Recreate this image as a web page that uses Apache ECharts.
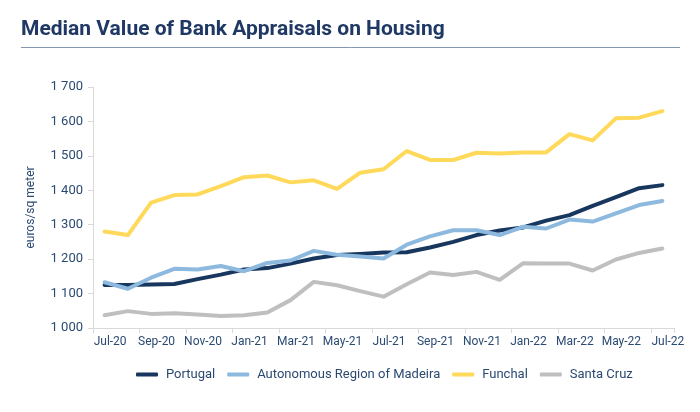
<!DOCTYPE html>
<html>
<head>
<meta charset="utf-8">
<script src="https://cdn.jsdelivr.net/npm/echarts@6/dist/echarts.min.js"></script>
<style>
html,body{margin:0;padding:0;background:#fff;}
#chart{width:700px;height:412px;}
</style>
</head>
<body>
<div id="chart"></div>
<script>
const months = ['Jul-20','Aug-20','Sep-20','Oct-20','Nov-20','Dec-20','Jan-21','Feb-21','Mar-21','Apr-21','May-21','Jun-21','Jul-21','Aug-21','Sep-21','Oct-21','Nov-21','Dec-21','Jan-22','Feb-22','Mar-22','Apr-22','May-22','Jun-22','Jul-22'];
const portugal = [1125,1125,1126,1128,1142,1155,1170,1174,1187,1202,1212,1215,1219,1220,1234,1250,1270,1283,1292,1312,1328,1355,1380,1406,1415];
const madeira = [1133,1114,1146,1172,1170,1180,1165,1189,1196,1224,1213,1208,1202,1242,1266,1284,1284,1270,1294,1289,1315,1309,1333,1357,1369];
const funchal = [1280,1270,1364,1386,1388,1412,1438,1443,1423,1429,1404,1451,1461,1514,1488,1488,1509,1507,1510,1510,1563,1545,1609,1611,1630];
const santaCruz = [1037,1049,1041,1043,1039,1035,1037,1045,1081,1134,1124,1107,1091,1127,1161,1154,1163,1140,1188,1187,1187,1167,1199,1218,1231];

const navy = '#1F3864';
const textCol = '#2B4A72';
const font = 'Roboto';

const chart = echarts.init(document.getElementById('chart'), null, {renderer:'canvas'});
function mk(name, data, color){
  return {name, type:'line', data, symbol:'none', smooth:false,
    lineStyle:{color, width:4, cap:'round', join:'round'}, itemStyle:{color}};
}
chart.setOption({
  animation:false,
  textStyle:{fontFamily:font},
  graphic:[
    {type:'text', left:21, top:19, style:{text:'Median Value of Bank Appraisals on Housing', font:'bold 21px Roboto', fill:navy}},
    {type:'line', shape:{x1:21,y1:47.5,x2:680,y2:47.5}, style:{stroke:'#8497B0', lineWidth:1}}
  ],
  grid:{left:93, right:26, top:87, bottom:84, containLabel:false},
  legend:{
    bottom:26, left:131, itemWidth:22, itemHeight:4, itemGap:12, icon:'roundRect',
    textStyle:{color:textCol, fontSize:13, fontFamily:font, padding:[0,0,0,3]},
    data:['Portugal','Autonomous Region of Madeira','Funchal','Santa Cruz']
  },
  xAxis:{
    type:'category', data:months, boundaryGap:true,
    axisLine:{lineStyle:{color:'#D9D9D9'}},
    axisTick:{show:true, interval:1, length:5, lineStyle:{color:'#D9D9D9'}},
    axisLabel:{interval:1, color:textCol, fontSize:12, fontFamily:font, margin:8, padding:[0,0,0,11]}
  },
  yAxis:{
    type:'value', min:1000, max:1700, interval:100,
    name:'euros/sq meter', nameLocation:'middle', nameGap:56, nameRotate:90,
    nameTextStyle:{color:textCol, fontSize:12, fontFamily:font},
    axisLine:{show:true, lineStyle:{color:'#D9D9D9'}},
    axisTick:{show:true, length:5, lineStyle:{color:'#D9D9D9'}},
    splitLine:{show:false},
    axisLabel:{color:textCol, fontSize:13, fontFamily:font, margin:10,
      formatter:v=>String(v).replace(/\B(?=(\d{3})+(?!\d))/g,' ')}
  },
  series:[
    mk('Portugal', portugal, '#17375E'),
    mk('Autonomous Region of Madeira', madeira, '#8DB9DF'),
    mk('Funchal', funchal, '#FFD95A'),
    mk('Santa Cruz', santaCruz, '#BFBFBF')
  ]
});
</script>
</body>
</html>
